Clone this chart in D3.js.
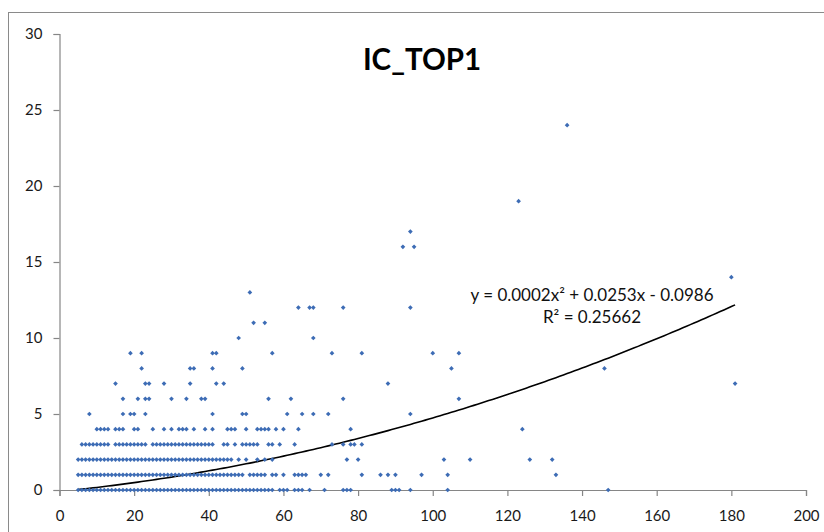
<!DOCTYPE html>
<html>
<head>
<meta charset="utf-8">
<script src="https://cdn.jsdelivr.net/npm/d3@7"></script>
<style>
  html, body { margin: 0; padding: 0; background: #fff; }
  svg { display: block; }
</style>
</head>
<body>
<svg id="chart" width="824" height="532"></svg>
<script>
// ---- data (x values of points at each integer y level) ----
const xAtY0 = [5,6,7,8,9,10,11,12,13,14,15,16,17,18,19,20,21,22,23,24,25,26,27,28,29,30,31,32,33,34,35,36,37,38,39,40,41,42,43,44,45,46,47,48,49,50,51,52,53,54,55,56,57,59,60,61,63,64,65,67,71,76,77,78,89,90,91,94,104,147];
const xAtY1 = [5,6,7,8,9,10,11,12,13,14,15,16,17,18,19,20,21,22,23,24,25,26,27,28,29,30,31,32,33,34,35,36,37,38,39,40,41,42,43,44,45,46,47,48,49,51,52,53,54,55,57,58,60,63,64,65,66,70,72,81,86,88,90,97,104,133];
const xAtY2 = [5,6,7,8,9,10,11,12,13,14,15,16,17,18,19,20,21,22,23,24,25,26,27,28,29,30,31,32,33,34,35,36,37,38,39,40,41,42,43,44,45,46,48,50,53,55,57,77,80,103,110,126,132];
const xAtY3 = [6,7,8,9,10,11,12,13,15,16,17,18,19,20,21,22,23,25,26,27,28,29,30,31,32,33,34,35,36,37,38,39,40,41,44,45,47,49,50,51,52,53,56,57,59,63,73,76,78,79,81];
const xAtY4 = [10,11,12,13,15,16,17,20,21,25,28,30,32,33,34,36,39,41,45,46,47,50,53,54,55,56,58,60,64,78,124];
const xAtY5 = [8,17,19,20,23,41,49,50,61,65,68,72,94];
const xAtY6 = [17,21,23,24,30,34,38,39,56,62,76,107];
const xAtY7 = [15,23,24,28,35,42,44,88,181];
const xAtY8 = [22,35,36,41,49,105,146];
const xAtY9 = [19,22,41,42,57,73,81,100,107];
const xAtY10 = [48,68];
const xAtY11 = [52,55];
const xAtY12 = [64,67,68,76,94];
const xAtY13 = [51];
const xAtY14 = [180];
const xAtY16 = [92,95];
const xAtY17 = [94];
const xAtY19 = [123];
const xAtY24 = [136];

const yLevels = [0,1,2,3,4,5,6,7,8,9,10,11,12,13,14,16,17,19,24];
const xLists  = [xAtY0,xAtY1,xAtY2,xAtY3,xAtY4,xAtY5,xAtY6,xAtY7,xAtY8,xAtY9,xAtY10,xAtY11,xAtY12,xAtY13,xAtY14,xAtY16,xAtY17,xAtY19,xAtY24];

const xTicks = [0,20,40,60,80,100,120,140,160,180,200];
const yTicks = [0,5,10,15,20,25,30];

const titleText = "IC_TOP1";
const eqText = "y = 0.0002x² + 0.0253x - 0.0986";
const r2Text = "R² = 0.25662";
// polynomial trendline coefficients (a, b, c) and its x-range
const trendCoef = [0.00024, 0.0244, -0.0986];
const trendRange = [5, 181];

// ---- build ----
const points = [];
yLevels.forEach((y, i) => xLists[i].forEach(x => points.push({x, y})));

const svg = d3.select("#chart");
const x = d3.scaleLinear().domain([0, 200]).range([59.5, 806]);
const y = d3.scaleLinear().domain([0, 30]).range([490, 34]);

// chart area border
svg.append("rect")
  .attr("x", 8.5).attr("y", 12.5).attr("width", 900).attr("height", 600)
  .attr("fill", "#fff").attr("stroke", "#8a8a8a").attr("stroke-width", 1);

const axisColor = "#868686";
const fontFam = "Lato, 'Open Sans', sans-serif";

// x axis
const gx = svg.append("g").attr("transform", `translate(0,${y(0)})`)
  .call(d3.axisBottom(x).tickValues(xTicks).tickSize(6).tickPadding(14).tickFormat(d3.format("d")));
// y axis
const gy = svg.append("g").attr("transform", `translate(${x(0)},0)`)
  .call(d3.axisLeft(y).tickValues(yTicks).tickSize(6).tickPadding(11).tickFormat(d3.format("d")));

[gx, gy].forEach(g => {
  g.select(".domain").attr("stroke", axisColor).attr("stroke-width", 1.2);
  g.selectAll(".tick line").attr("stroke", axisColor).attr("stroke-width", 1.2);
  g.selectAll(".tick text").attr("fill", "#1a1a1a").style("font-family", fontFam).style("font-size", "15px");
});

// trendline
const trendXs = d3.range(trendRange[0], trendRange[1] + 0.001, 1);
const line = d3.line()
  .x(d => x(d))
  .y(d => y(trendCoef[0]*d*d + trendCoef[1]*d + trendCoef[2]));
svg.append("path").datum(trendXs)
  .attr("d", line).attr("fill", "none").attr("stroke", "#000").attr("stroke-width", 1.6);

// points
const sym = d3.symbol().type(d3.symbolSquare).size(11);
svg.append("g").selectAll("path").data(points).join("path")
  .attr("d", sym)
  .attr("transform", d => `translate(${x(d.x)},${y(d.y)}) rotate(45)`)
  .attr("fill", "#3d6cb5");

// title
svg.append("text")
  .attr("x", 422).attr("y", 70).attr("text-anchor", "middle")
  .style("font-family", fontFam).style("font-weight", "700").style("font-size", "29.5px")
  .attr("fill", "#000").text(titleText);

// equation labels
svg.append("text")
  .attr("x", 592).attr("y", 301).attr("text-anchor", "middle")
  .style("font-family", fontFam).style("font-size", "17px").attr("fill", "#111").text(eqText);
svg.append("text")
  .attr("x", 592).attr("y", 323).attr("text-anchor", "middle")
  .style("font-family", fontFam).style("font-size", "17px").attr("fill", "#111").text(r2Text);
</script>
</body>
</html>
